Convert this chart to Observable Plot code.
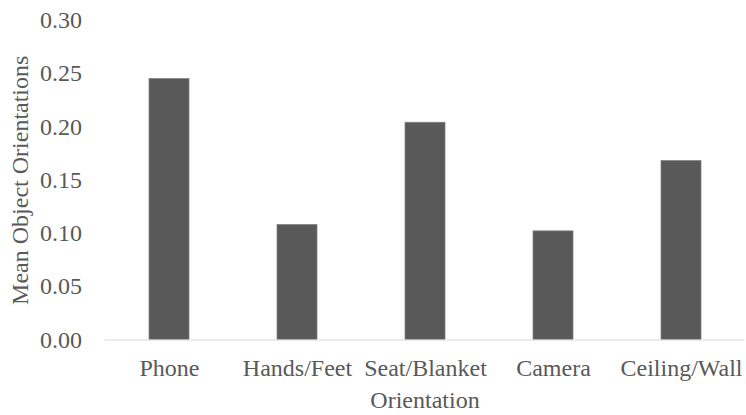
<!DOCTYPE html>
<html>
<head>
<meta charset="utf-8">
<script src="https://cdn.jsdelivr.net/npm/d3@7"></script>
<script src="https://cdn.jsdelivr.net/npm/@observablehq/plot@0.6"></script>
<style>
  html, body { margin: 0; padding: 0; background: #fff; }
  #chart svg { display: block; }
</style>
</head>
<body>
<div id="chart"></div>
<script>
// Mean object orientations by orientation category
const categories = ["Phone", "Hands/Feet", "Seat/Blanket", "Camera", "Ceiling/Wall"];
const means = [0.245, 0.108, 0.204, 0.102, 0.168];
const yTicks = [0, 0.05, 0.10, 0.15, 0.20, 0.25, 0.30];

const data = categories.map((c, i) => ({ category: c, mean: means[i] }));

const textColor = "#595959";

const chart = Plot.plot({
  width: 746,
  height: 415,
  marginLeft: 104.5,
  marginRight: 1.5,
  marginTop: 20,
  marginBottom: 75.5,
  style: {
    fontFamily: "'Liberation Serif', 'Times New Roman', serif",
    fontSize: "24px",
    color: textColor,
    background: "#fff"
  },
  x: {
    domain: categories,
    paddingInner: 0.6875,
    paddingOuter: 0.34375,
    label: "Orientation",
    labelAnchor: "center",
    labelArrow: "none",
    labelOffset: 68,
    tickSize: 0,
    tickPadding: 19
  },
  y: {
    domain: [0, 0.30],
    ticks: yTicks,
    tickFormat: d3.format(".2f"),
    label: "Mean Object Orientations",
    labelAnchor: "center",
    labelArrow: "none",
    labelOffset: 94,
    tickSize: 0,
    tickPadding: 23
  },
  marks: [
    Plot.barY(data, {
      x: "category",
      y: "mean",
      fill: "#595959",
      stroke: "#7f7f7f",
      strokeWidth: 0.75
    }),
    Plot.ruleY([0], { stroke: "#d9d9d9", strokeWidth: 1.2 })
  ]
});

document.getElementById("chart").appendChild(chart);
</script>
</body>
</html>
